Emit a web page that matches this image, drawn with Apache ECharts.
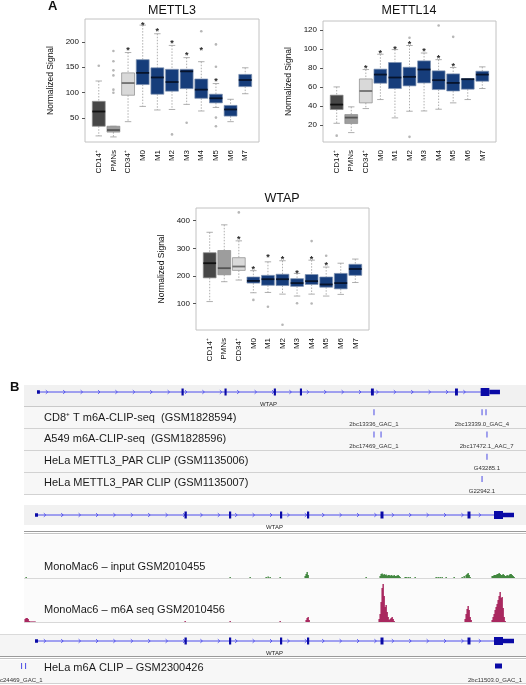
<!DOCTYPE html>
<html>
<head>
<meta charset="utf-8">
<script src="https://cdn.jsdelivr.net/npm/echarts@6/dist/echarts.min.js"></script>
<style>
html, body { margin: 0; padding: 0; background: #fff; }
#chart { width: 526px; height: 685px; }
</style>
</head>
<body>
<div id="chart"></div>
<script>
var FONT = '"Liberation Sans", Arial, Helvetica, sans-serif';

// ---- panel A data ----
var cellTypes = ['CD14⁺', 'PMNs', 'CD34⁺', 'M0', 'M1', 'M2', 'M3', 'M4', 'M5', 'M6', 'M7'];

// [low whisker, Q1, median, Q3, high whisker]
var mettl3Boxes = [
  [15, 34, 63, 83, 123], [13, 22.5, 26.5, 34, 34], [43, 95, 119, 139, 179],
  [73, 116, 139, 165, 233], [66, 97, 130, 149, 216], [67, 103, 121, 146, 193],
  [77, 108, 142, 146, 169], [64, 89, 106, 127, 161], [71, 80, 89, 97, 118],
  [43, 54, 67, 75, 87], [98, 112, 125, 136, 149]
];
var mettl3Outliers = [[0, 153], [1, 182], [1, 162], [1, 144], [1, 134], [1, 106], [1, 100],
  [5, 18], [6, 41], [7, 221], [8, 195], [8, 151], [8, 51], [8, 34]];
var mettl3Stars = [[2, 187], [3, 237], [4, 224], [5, 200], [6, 177], [7, 186], [8, 125]];
var mettl3Ticks = [50, 100, 150, 200];

var mettl14Boxes = [
  [22, 36.5, 41.7, 51.6, 60.3], [12.2, 21.7, 28, 31.2, 39.3], [37.5, 43.5, 56, 68.7, 78.6],
  [47, 64.2, 73.3, 79, 94.7], [27.7, 58.6, 70.2, 86, 99.6], [34.7, 61.4, 70.9, 81, 103.9],
  [35, 64.5, 78.6, 87.7, 96], [36.8, 57.5, 67.4, 77.2, 89], [43.5, 56, 64.5, 74, 80.7],
  [47, 57.9, 68.4, 69, 69], [58.6, 66.3, 73.3, 76.8, 81.4]
];
var mettl14Outliers = [[0, 9], [5, 112], [5, 7.7], [7, 125], [8, 113]];
var mettl14Stars = [[2, 82], [3, 98], [4, 102], [5, 107], [6, 99.6], [7, 92], [8, 84]];
var mettl14Ticks = [20, 40, 60, 80, 100, 120];

var wtapBoxes = [
  [107, 193, 246, 284, 358], [179, 204, 228, 292, 385], [185, 220, 234, 266, 327],
  [139, 174, 182, 196, 219], [140, 166, 188, 202, 251], [134, 165, 188, 206, 255],
  [127, 162, 174, 190, 209], [134, 169, 181, 205, 257], [127, 159, 169, 196, 232],
  [133, 153, 174, 209, 246], [176, 202, 225, 242, 261]
];
var wtapOutliers = [[2, 430], [3, 113], [4, 88], [5, 23], [6, 101], [7, 326], [7, 100], [8, 273]];
var wtapStars = [[2, 340], [3, 231], [4, 275], [5, 267], [6, 215], [7, 265], [8, 245]];
var wtapTicks = [100, 200, 300, 400];

// ---- panel B data (positions along the locus) ----
var geneName = 'WTAP';
var geneSpan = [35, 514];
var geneStartBlock = [35, 38];
var geneExons = [[184.5, 186.8], [229, 231.2], [280, 282.2], [307, 309.2], [380.5, 383.5], [467.5, 470.5]];
var geneLastExon = [494, 503];
var geneUtr = [503, 514];

var clipTracks = ['CD8⁺ T m6A-CLIP-seq  (GSM1828594)', 'A549 m6A-CLIP-seq  (GSM1828596)',
  'HeLa METTL3_PAR CLIP (GSM1135006)', 'HeLa METTL3_PAR CLIP (GSM1135007)'];
var clipMarks = [[383.6, 0], [495.4, 0], [499.5, 0], [383.6, 1], [390.9, 1], [500.5, 1], [500.5, 2], [495.4, 3]];
var clipNames = [[383.6, 0, '2bc13336_GAC_1'], [495.4, 0, '2bc13339.0_GAC_4'], [383.6, 1, '2bc17469_GAC_1'],
  [500.2, 1, '2bc17472.1_AAC_7'], [500.5, 2, 'G43285.1'], [495.4, 3, 'G22942.1']];

var inputTrack = 'MonoMac6 – input GSM2010455';
var inputCov = [[26, 1], [230, 1], [250, 1], [266, 1], [268, 1.5], [270, 1], [280, 1], [305, 2], [306, 4], [307, 6], [308, 3],
  [366, 1], [380, 2], [381, 4], [382, 4.5], [383, 3], [384, 4], [385, 3], [386, 3.5], [387, 2], [388, 3], [389, 3], [390, 2],
  [391, 3], [392, 2.5], [393, 2], [394, 3], [395, 2], [396, 2], [397, 2.5], [398, 3], [399, 2], [400, 1], [405, 1], [406, 1],
  [408, 1], [410, 1], [415, 1], [436, 1], [438, 1], [440, 1], [442, 1], [446, 1], [454, 1], [462, 1], [464, 2], [466, 3],
  [467, 4], [468, 5], [469, 3], [470, 1], [492, 2], [493, 2], [494, 3], [495, 3], [496, 3], [497, 4], [498, 4], [499, 5],
  [500, 4], [501, 3], [502, 3], [503, 4], [504, 3], [505, 2], [506, 2], [507, 3], [508, 2], [509, 3], [510, 4], [511, 4],
  [512, 3], [513, 2], [514, 1]];

var m6aTrack = 'MonoMac6 – m6A seq GSM2010456';
var m6aCov = [[25, 3], [26, 4], [27, 4], [28, 3], [29, 1], [30, 0.6], [31, 0.6], [32, 0.6], [33, 0.6], [34, 0.6], [35, 0.6],
  [185, 1], [230, 1], [280, 1], [306, 2], [307, 4], [308, 5], [309, 2],
  [379, 3], [380, 8], [381, 20], [382, 34], [383, 38], [384, 26], [385, 15], [386, 17], [387, 10], [388, 5], [389, 2],
  [390, 3], [391, 4], [392, 5], [393, 3], [394, 1], [465, 3], [466, 8], [467, 13], [468, 16], [469, 12], [470, 5], [471, 2],
  [492, 2], [493, 5], [494, 8], [495, 12], [496, 15], [497, 18], [498, 22], [499, 26], [500, 30], [501, 24], [502, 25],
  [503, 14], [504, 5], [505, 1]];

var helaTrack = 'HeLa m6A CLIP – GSM2300426';
var helaMarks = [[21, 21.8], [25, 25.8], [495, 502]];
var helaNames = [[18, '2bc24469_GAC_1'], [495, '2bc11503.0_GAC_1']];

// ---- styling ----
var grayFills = ['#474747', '#9d9d9d', '#d9d9d9'];
var grayMedians = ['#111111', '#555555', '#6f6f6f'];
var blueFill = '#163d7b';
var exonColor = '#0a0aa6';
var intronColor = '#4c4cec';
var markColor = '#5a5ae6';

var grids = [], xAxes = [], yAxes = [], series = [];

function addGrid(g, x, y) {
  grids.push(g);
  x.gridIndex = grids.length - 1;
  y.gridIndex = grids.length - 1;
  xAxes.push(x);
  yAxes.push(y);
  return grids.length - 1;
}

function renderBox(params, api) {
  var i = api.value(0);
  var lo = api.coord([i, api.value(1)]);
  var q1 = api.coord([i, api.value(2)]);
  var md = api.coord([i, api.value(3)]);
  var q3 = api.coord([i, api.value(4)]);
  var hi = api.coord([i, api.value(5)]);
  var band = api.size([1, 0])[0];
  var w = band * 0.88, c = w * 0.5, x = lo[0];
  var gray = i < 3;
  var fill = gray ? grayFills[i] : blueFill;
  var med = gray ? grayMedians[i] : '#07142c';
  var edge = gray ? '#8a8a8a' : '#7d90b0';
  var wh = { stroke: '#9a9a9a', lineWidth: 0.8, lineDash: [1.5, 1.5] };
  var cap = { stroke: '#9a9a9a', lineWidth: 0.8 };
  return {
    type: 'group',
    children: [
      { type: 'line', shape: { x1: x, y1: hi[1], x2: x, y2: q3[1] }, style: wh },
      { type: 'line', shape: { x1: x, y1: q1[1], x2: x, y2: lo[1] }, style: wh },
      { type: 'line', shape: { x1: x - c / 2, y1: hi[1], x2: x + c / 2, y2: hi[1] }, style: cap },
      { type: 'line', shape: { x1: x - c / 2, y1: lo[1], x2: x + c / 2, y2: lo[1] }, style: cap },
      { type: 'rect', shape: { x: x - w / 2, y: q3[1], width: w, height: q1[1] - q3[1] },
        style: { fill: fill, stroke: edge, lineWidth: 0.7 } },
      { type: 'line', shape: { x1: x - w / 2, y1: md[1], x2: x + w / 2, y2: md[1] },
        style: { stroke: med, lineWidth: 1.8 } }
    ]
  };
}

function renderStar(params, api) {
  var p = api.coord([api.value(0), api.value(1)]);
  return {
    type: 'text', x: p[0], y: p[1] + 2,
    style: { text: '*', fill: '#2a2a2a', font: 'bold 9px ' + FONT,
      align: 'center', verticalAlign: 'middle', textAlign: 'center', textVerticalAlign: 'middle' }
  };
}

function addBoxPanel(frame, boxes, outliers, stars, range, ticks) {
  var u = frame.width / 11.88;
  var off = 0.44 * u;
  addGrid({ left: frame.left, top: frame.top, width: frame.width, height: frame.height,
    show: true, borderColor: '#c2c2c2', borderWidth: 1 },
    { type: 'value', show: false }, { type: 'value', show: false });
  var gi = addGrid({ left: frame.left + off, top: frame.top, width: 11 * u, height: frame.height },
    { type: 'category', data: cellTypes, axisLine: { show: false },
      axisTick: { alignWithLabel: true, length: 3, interval: 0, lineStyle: { color: '#555' } },
      axisLabel: { rotate: 90, interval: 0, fontSize: 8, margin: 8, color: '#111', fontFamily: FONT } },
    { type: 'value', min: range[0], max: range[1], offset: off, splitLine: { show: false },
      axisLine: { show: false },
      axisTick: { show: true, length: 3, customValues: ticks, lineStyle: { color: '#555' } },
      axisLabel: { customValues: ticks, fontSize: 8, margin: 6, color: '#111', fontFamily: FONT },
      name: 'Normalized Signal', nameLocation: 'middle', nameRotate: 90, nameGap: 30,
      nameTextStyle: { fontSize: 8.5, color: '#111', fontFamily: FONT } });
  series.push({ type: 'custom', xAxisIndex: gi, yAxisIndex: gi, renderItem: renderBox,
    encode: { x: 0, y: [1, 2, 3, 4, 5] },
    data: boxes.map(function(b, i) { return [i].concat(b) }), z: 3 });
  series.push({ type: 'scatter', xAxisIndex: gi, yAxisIndex: gi, symbolSize: 2.6,
    itemStyle: { color: '#a4a4a4' }, data: outliers, z: 4 });
  series.push({ type: 'custom', xAxisIndex: gi, yAxisIndex: gi, renderItem: renderStar,
    encode: { x: 0, y: 1 }, data: stars, z: 5 });
}

addBoxPanel({ left: 85, top: 19, width: 174, height: 123 }, mettl3Boxes, mettl3Outliers, mettl3Stars, [3, 245], mettl3Ticks);
addBoxPanel({ left: 323, top: 21, width: 173, height: 121 }, mettl14Boxes, mettl14Outliers, mettl14Stars, [2.3, 129.7], mettl14Ticks);
addBoxPanel({ left: 196, top: 208, width: 173, height: 122 }, wtapBoxes, wtapOutliers, wtapStars, [4, 446], wtapTicks);

// ---- panel B ----
function hiddenX() { return { type: 'value', min: 0, max: 526, show: false } }
function hiddenY(max) { return { type: 'value', min: 0, max: max, show: false } }

function renderGene(params, api) {
  var y = api.coord([geneSpan[0], 0.5])[1];
  var a = api.coord([geneSpan[0], 0.5])[0];
  var b = api.coord([geneLastExon[0], 0.5])[0];
  var kids = [{ type: 'line', shape: { x1: a, y1: y, x2: b, y2: y }, style: { stroke: intronColor, lineWidth: 1 } }];
  for (var x = a + 10; x < b - 5; x += 17.4) {
    kids.push({ type: 'polyline', shape: { points: [[x - 1.2, y - 1.8], [x + 0.8, y], [x - 1.2, y + 1.8]] },
      style: { stroke: intronColor, fill: null, lineWidth: 0.9 } });
  }
  function block(span, h) {
    var p0 = api.coord([span[0], 0.5])[0], p1 = api.coord([span[1], 0.5])[0];
    kids.push({ type: 'rect', shape: { x: p0, y: y - h / 2, width: Math.max(p1 - p0, 1.3), height: h },
      style: { fill: exonColor } });
  }
  block(geneStartBlock, 3.5);
  geneExons.forEach(function(e) { block(e, 7) });
  block(geneLastExon, 8);
  block(geneUtr, 4.5);
  var mid = api.coord([(geneSpan[0] + geneSpan[1]) / 2, 0.5])[0];
  kids.push({ type: 'text', x: mid, y: y + 12,
    style: { text: geneName, fill: '#222', font: '6px ' + FONT,
      align: 'center', verticalAlign: 'middle', textAlign: 'center', textVerticalAlign: 'middle' } });
  return { type: 'group', children: kids };
}

function addGeneTrack(left, width, top) {
  var gi = addGrid({ left: left, top: top, width: width, height: 14 }, hiddenX(), hiddenY(1));
  series.push({ type: 'custom', xAxisIndex: gi, yAxisIndex: gi, renderItem: renderGene, clip: false,
    encode: { x: [0, 2], y: 1 }, data: [[geneSpan[0], 0.5, geneSpan[1]]], z: 3 });
}

function tickItem(color) {
  return function(params, api) {
    var p0 = api.coord([api.value(0), api.value(1)]);
    return { type: 'rect', shape: { x: p0[0] - 0.5, y: p0[1] - 3, width: 1.1, height: 6 }, style: { fill: color } };
  };
}

function smallLabel(text, x, y) {
  return { type: 'text', x: x, y: y,
    style: { text: text, fill: '#333', font: '6px ' + FONT,
      align: 'center', verticalAlign: 'middle', textAlign: 'center', textVerticalAlign: 'middle' } };
}

// track-1 section is drawn slightly compressed, as in the browser screenshot
var t1Left = 3.17, t1Width = 508.4;
addGeneTrack(t1Left, t1Width, 385);

var clipGi = addGrid({ left: t1Left, top: 401, width: t1Width, height: 89 }, hiddenX(),
  { type: 'category', data: ['0', '1', '2', '3'], inverse: true, show: false });
series.push({ type: 'custom', xAxisIndex: clipGi, yAxisIndex: clipGi, renderItem: tickItem(markColor),
  encode: { x: 0, y: 1 }, data: clipMarks, z: 3 });
series.push({ type: 'custom', xAxisIndex: clipGi, yAxisIndex: clipGi, clip: false,
  renderItem: function(params, api) {
    var p = api.coord([api.value(0), api.value(1)]);
    return smallLabel(clipNames[params.dataIndex][2], p[0], p[1] + 12);
  },
  encode: { x: 0, y: 1 }, data: clipNames.map(function(d) { return [d[0], d[1]] }), z: 3 });

addGeneTrack(0, 526, 508);

function renderCov(color) {
  return function(params, api) {
    var p0 = api.coord([api.value(0) - 0.5, 0]);
    var p1 = api.coord([api.value(0) + 0.5, api.value(1)]);
    return { type: 'rect', shape: { x: p0[0], y: p1[1], width: p1[0] - p0[0] + 0.3, height: p0[1] - p1[1] },
      style: { fill: color } };
  };
}
var inGi = addGrid({ left: 0, top: 535, width: 526, height: 43 }, hiddenX(), hiddenY(43));
series.push({ type: 'custom', xAxisIndex: inGi, yAxisIndex: inGi, renderItem: renderCov('#2c7b2a'),
  encode: { x: 0, y: 1 }, data: inputCov, z: 3 });
var m6Gi = addGrid({ left: 0, top: 579, width: 526, height: 43 }, hiddenX(), hiddenY(43));
series.push({ type: 'custom', xAxisIndex: m6Gi, yAxisIndex: m6Gi, renderItem: renderCov('#a0114f'),
  encode: { x: 0, y: 1 }, data: m6aCov, z: 3 });

addGeneTrack(0, 526, 634);

var heGi = addGrid({ left: 0, top: 661, width: 526, height: 10 }, hiddenX(), hiddenY(1));
series.push({ type: 'custom', xAxisIndex: heGi, yAxisIndex: heGi, clip: false,
  renderItem: function(params, api) {
    var p0 = api.coord([api.value(0), 0.5]), p1 = api.coord([api.value(1), 0.5]);
    var wide = p1[0] - p0[0] > 2;
    return { type: 'rect', shape: { x: p0[0], y: p0[1] - (wide ? 2.5 : 3), width: Math.max(p1[0] - p0[0], 1.1), height: wide ? 5 : 6 },
      style: { fill: wide ? exonColor : markColor } };
  },
  encode: { x: [0, 1], y: -1 }, data: helaMarks, z: 3 });
series.push({ type: 'custom', xAxisIndex: heGi, yAxisIndex: heGi, clip: false,
  renderItem: function(params, api) {
    var p = api.coord([api.value(0), 0.5]);
    return smallLabel(helaNames[params.dataIndex][1], p[0], p[1] + 14);
  },
  encode: { x: 0, y: -1 }, data: helaNames.map(function(d) { return [d[0]] }), z: 3 });

// ---- decoration: titles, panel letters, track backgrounds, track names ----
function txt(s, x, y, font, align, color) {
  return { type: 'text', x: x, y: y, z: 10,
    style: { text: s, fill: color || '#111', font: font, align: align || 'left', verticalAlign: 'middle',
      textAlign: align || 'left', textVerticalAlign: 'middle' } };
}
function rect(x, y, w, h, fill) {
  return { type: 'rect', z: -10, shape: { x: x, y: y, width: w, height: h }, style: { fill: fill } };
}
function hline(x1, x2, y, color, lw) {
  return { type: 'line', z: -5, shape: { x1: x1, y1: y, x2: x2, y2: y }, style: { stroke: color, lineWidth: lw || 1 } };
}

var graphics = [
  txt('A', 48, 6, 'bold 13px ' + FONT),
  txt('METTL3', 172, 11, '12.5px ' + FONT, 'center'),
  txt('METTL14', 409, 11, '12.5px ' + FONT, 'center'),
  txt('WTAP', 282, 199, '12.5px ' + FONT, 'center'),
  txt('B', 10, 387, 'bold 13px ' + FONT),

  rect(24, 385, 502, 21, '#f1f1f1'),
  rect(24, 406, 502, 89, '#f7f7f7'),
  hline(24, 526, 406.5, '#c9c9c9'),
  hline(24, 526, 428.5, '#d2d2d2'),
  hline(24, 526, 450.5, '#d2d2d2'),
  hline(24, 526, 472.5, '#d2d2d2'),
  hline(24, 526, 494.5, '#d2d2d2'),

  rect(24, 505, 502, 20, '#f1f1f1'),
  hline(24, 526, 531.5, '#9a9a9a'),
  hline(24, 526, 533.5, '#c4c4c4'),
  rect(24, 535, 502, 87, '#fbfbfb'),
  hline(24, 526, 578.5, '#d8d8d8'),
  hline(24, 526, 622.5, '#d8d8d8'),

  rect(0, 634, 526, 22, '#f5f5f5'),
  hline(0, 526, 634.5, '#dadada'),
  hline(0, 526, 656.5, '#9a9a9a'),
  hline(0, 526, 658.5, '#c4c4c4'),
  rect(0, 660, 526, 24, '#f7f7f7'),
  hline(0, 526, 683.5, '#d2d2d2')
];
var clipY = [418, 439, 461, 483];
clipTracks.forEach(function(t, i) { graphics.push(txt(t, 44, clipY[i], '11px ' + FONT, 'left', '#1a1a1a')) });
graphics.push(txt(inputTrack, 44, 567, '11px ' + FONT, 'left', '#1a1a1a'));
graphics.push(txt(m6aTrack, 44, 610, '11px ' + FONT, 'left', '#1a1a1a'));
graphics.push(txt(helaTrack, 44, 668, '11px ' + FONT, 'left', '#1a1a1a'));

var chart = echarts.init(document.getElementById('chart'));
chart.setOption({
  animation: false,
  textStyle: { fontFamily: FONT },
  grid: grids,
  xAxis: xAxes,
  yAxis: yAxes,
  series: series,
  graphic: graphics
});
</script>
</body>
</html>
